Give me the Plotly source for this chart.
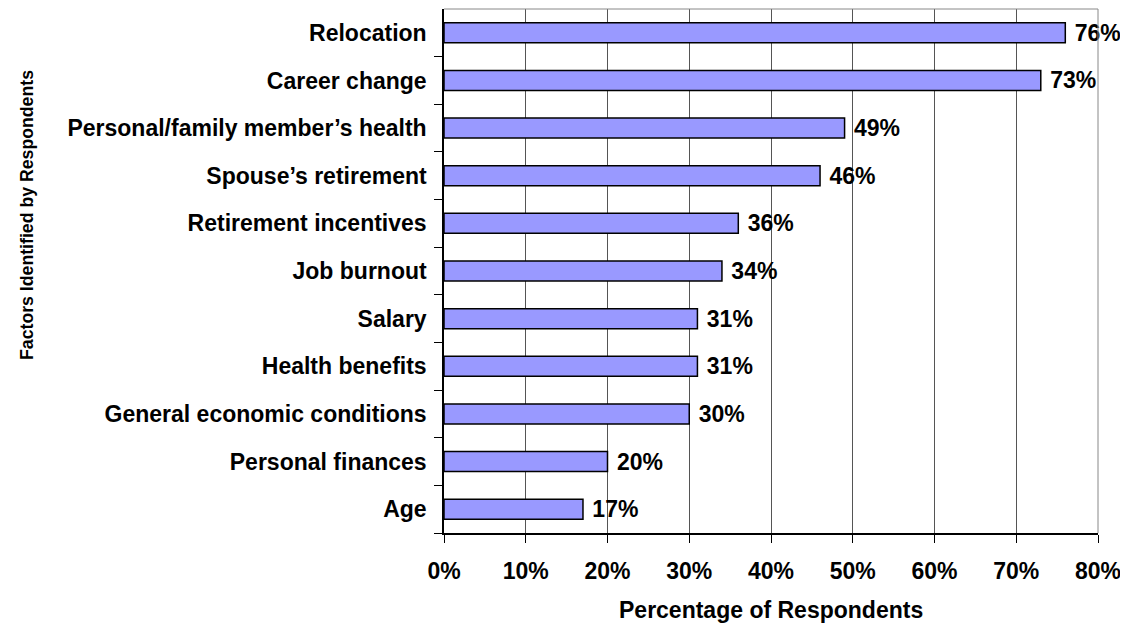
import plotly.graph_objects as go

categories = ["Relocation", "Career change", "Personal/family member\u2019s health",
              "Spouse\u2019s retirement", "Retirement incentives", "Job burnout",
              "Salary", "Health benefits", "General economic conditions",
              "Personal finances", "Age"]
values = [76, 73, 49, 46, 36, 34, 31, 31, 30, 20, 17]
tick_vals = [0, 10, 20, 30, 40, 50, 60, 70, 80]
tick_text = [f"{v}%" for v in tick_vals]

FONT = "Liberation Sans, Arial, sans-serif"
FS = 23

fig = go.Figure(go.Bar(
    x=values, y=categories, orientation="h",
    marker=dict(color="#9999FF", line=dict(color="#000000", width=1.5)),
    width=0.42,
    text=[f"<b> {v}%</b>" for v in values],
    textposition="outside", cliponaxis=False, constraintext="none",
    textfont=dict(family=FONT, size=FS, color="#000"),
))

fig.update_layout(
    width=1120, height=622,
    margin=dict(l=436, r=30, t=1, b=97),
    paper_bgcolor="white", plot_bgcolor="white",
    showlegend=False,
    font=dict(family=FONT, color="#000"),
    xaxis=dict(range=[0, 80], tickvals=tick_vals, ticktext=[f"<b>{t}</b>" for t in tick_text],
               tickfont=dict(size=FS, family=FONT), ticks="outside", ticklen=8,
               tickcolor="#000", showgrid=True, gridcolor="#555555", gridwidth=1,
               showline=True, linecolor="#000", linewidth=1.5, mirror=False,
               zeroline=False, ticklabelstandoff=9),
    yaxis=dict(categoryorder="array", categoryarray=categories[::-1],
               tickvals=categories, ticktext=[f"<b>{c}</b>" for c in categories],
               tickfont=dict(size=FS, family=FONT), ticks="outside", ticklen=8,
               tickcolor="#000", tickson="boundaries",
               showline=True, linecolor="#000", linewidth=1.5, showgrid=False,
               ticklabelstandoff=11),
    shapes=[
        dict(type="line", xref="paper", yref="paper", x0=0, x1=1, y0=1, y1=1,
             line=dict(color="#888888", width=1)),
        dict(type="line", xref="paper", yref="paper", x0=1, x1=1, y0=0, y1=1,
             line=dict(color="#888888", width=1)),
    ],
    annotations=[
        dict(text="<b>Percentage of Respondents</b>", xref="paper", yref="paper",
             x=0.5, y=0, yshift=-77, xanchor="center", yanchor="middle",
             showarrow=False, font=dict(size=FS, family=FONT)),
        dict(text="<b>Factors Identified by Respondents</b>", xref="paper", yref="paper",
             x=0, xshift=-417, y=0.607, xanchor="center", yanchor="middle",
             textangle=-90, showarrow=False, font=dict(size=17.7, family=FONT)),
    ],
)

fig.write_html("out.html")
